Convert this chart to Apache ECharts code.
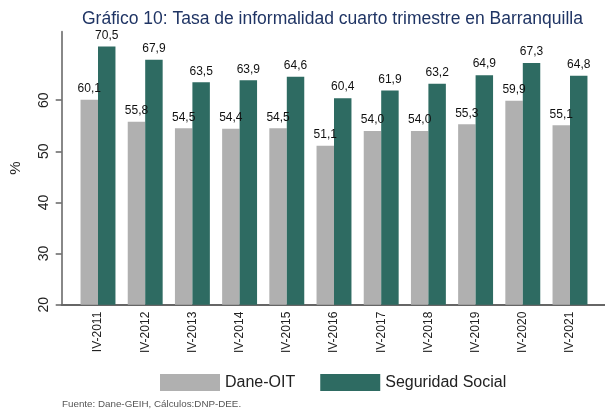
<!DOCTYPE html>
<html>
<head>
<meta charset="utf-8">
<script src="https://cdn.jsdelivr.net/npm/echarts@6/dist/echarts.min.js"></script>
<style>
  html, body { margin: 0; padding: 0; background: #fff; }
  #chart { width: 605px; height: 412px; }
</style>
</head>
<body>
<div id="chart"></div>
<script>
// datos
var periodos = ['IV-2011', 'IV-2012', 'IV-2013', 'IV-2014', 'IV-2015', 'IV-2016', 'IV-2017', 'IV-2018', 'IV-2019', 'IV-2020', 'IV-2021']
var daneOIT = [60.1, 55.8, 54.5, 54.4, 54.5, 51.1, 54.0, 54.0, 55.3, 59.9, 55.1]
var seguridadSocial = [70.5, 67.9, 63.5, 63.9, 64.6, 60.4, 61.9, 63.2, 64.9, 67.3, 64.8]
var yTicks = [20, 30, 40, 50, 60]

var Y_MIN = 20
var Y_MAX = 73.4
var FONT = 'Liberation Sans'

function etiqueta(p) {
    return p.value.toFixed(1).replace('.', ',')
}

var myChart = echarts.init(document.getElementById('chart'))

var option = {
    animation: false,
    textStyle: { fontFamily: FONT },
    title: [{
        text: 'Gráfico 10: Tasa de informalidad cuarto trimestre en Barranquilla',
        left: 77, top: 5,
        textStyle: { fontFamily: FONT, fontSize: 17.5, fontWeight: 'normal', color: '#1F3464' }
    }, {
        text: 'Fuente: Dane-GEIH, Cálculos:DNP-DEE.',
        left: 57, top: 394,
        textStyle: { fontFamily: FONT, fontSize: 9.8, fontWeight: 'normal', color: '#555' }
    }],
    legend: {
        data: ['Dane-OIT', 'Seguridad Social'],
        left: 155, top: 369,
        icon: 'rect',
        itemWidth: 60, itemHeight: 17, itemGap: 25,
        textStyle: { fontFamily: FONT, fontSize: 16, color: '#222' }
    },
    grid: [
        // marco de ejes
        { left: 61.7, right: 0, top: 31.7, bottom: 107.3 },
        // barras
        { left: 74.4, right: 11.4, top: 31.7, bottom: 107.3 }
    ],
    xAxis: [{
        gridIndex: 0, type: 'value', min: 0, max: 1,
        axisLine: { show: true, lineStyle: { color: '#666', width: 2 } },
        axisTick: { show: false }, axisLabel: { show: false }, splitLine: { show: false }
    }, {
        gridIndex: 1, type: 'category', data: periodos,
        axisLine: { show: false }, axisTick: { show: false },
        axisLabel: { rotate: 90, margin: 7, fontSize: 12, color: '#222', fontFamily: FONT }
    }],
    yAxis: [{
        gridIndex: 0, type: 'value', min: Y_MIN, max: Y_MAX, interval: 10,
        name: '%', nameLocation: 'middle', nameGap: 38, nameRotate: 90,
        nameTextStyle: { fontSize: 15, color: '#222', fontFamily: FONT },
        axisLine: { show: true, lineStyle: { color: '#888', width: 2 } },
        axisTick: { show: true, length: 6, customValues: yTicks, lineStyle: { color: '#666', width: 1.5 } },
        axisLabel: { rotate: 90, margin: 11, fontSize: 14, color: '#222', fontFamily: FONT, customValues: yTicks },
        splitLine: { show: false }
    }, {
        gridIndex: 1, type: 'value', min: Y_MIN, max: Y_MAX, show: false
    }],
    series: [{
        name: 'Dane-OIT', type: 'bar', xAxisIndex: 1, yAxisIndex: 1,
        data: daneOIT, barGap: '0%', barCategoryGap: '26%',
        itemStyle: { color: '#B0B0B0' },
        label: { show: true, position: 'top', distance: 5, fontSize: 12, color: '#111', formatter: etiqueta }
    }, {
        name: 'Seguridad Social', type: 'bar', xAxisIndex: 1, yAxisIndex: 1,
        data: seguridadSocial, barGap: '0%', barCategoryGap: '26%',
        itemStyle: { color: '#2E6B62' },
        label: { show: true, position: 'top', distance: 5, fontSize: 12, color: '#111', formatter: etiqueta }
    }]
}

myChart.setOption(option)
</script>
</body>
</html>
